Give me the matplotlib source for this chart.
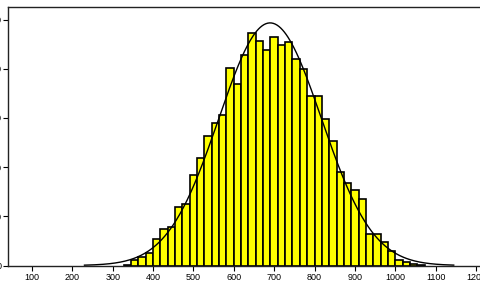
import matplotlib
matplotlib.use("Agg")
import matplotlib.pyplot as plt
import numpy as np

# histogram data
bin_start = 327.27
bin_width = 600 / 33
counts = [2, 11, 17, 25, 53, 74, 78, 118, 125, 184, 218, 264, 290, 307, 402,
          370, 427, 473, 457, 438, 464, 448, 454, 419, 400, 345, 345, 297, 254,
          191, 168, 153, 135, 65, 65, 47, 30, 11, 7, 4, 2]
x_ticks = [100, 200, 300, 400, 500, 600, 700, 800, 900, 1000, 1100, 1200]
y_ticks = [0, 100, 200, 300, 400, 500]

# fitted normal curve
mean = 690
sd = 127

plt.rcParams['font.family'] = ['Liberation Sans', 'DejaVu Sans']

fig = plt.figure(figsize=(4.8, 2.88), dpi=100)
ax = fig.add_axes([8 / 480, 22.5 / 288, 476 / 480, 258.2 / 288])

lefts = bin_start + bin_width * np.arange(len(counts))
ax.bar(lefts, counts, width=bin_width, align='edge', color='#ffff00',
       edgecolor='black', linewidth=1.2, zorder=2)

n = sum(counts)
xs = np.linspace(230, 1145, 400)
ys = n * bin_width / (sd * np.sqrt(2 * np.pi)) * np.exp(-0.5 * ((xs - mean) / sd) ** 2)
ax.plot(xs, ys, color='black', linewidth=1.0, zorder=3)

ax.set_xlim(40.5, 1220)
ax.set_ylim(0, 525)
ax.set_xticks(x_ticks)
ax.set_yticks(y_ticks)
ax.tick_params(axis='both', direction='out', length=3.5, width=0.8,
               labelsize=6.5, pad=2)
ax.tick_params(axis='y', pad=1)

for s in ax.spines.values():
    s.set_linewidth(1.0)
    s.set_color('#222222')

fig.savefig("out.png", dpi=100)
